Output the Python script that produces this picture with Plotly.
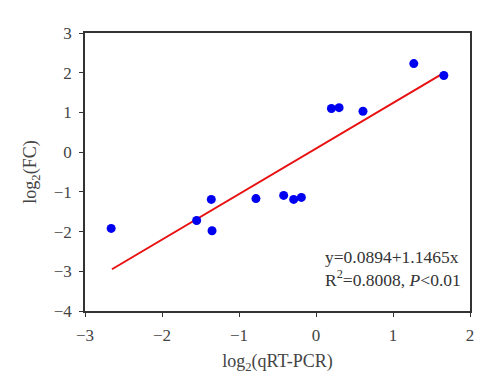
import plotly.graph_objects as go

qrt_pcr = [-2.66, -1.55, -1.36, -1.35, -0.78, -0.42, -0.29, -0.19, 0.20, 0.30, 0.61, 1.27, 1.66]
log2_fc = [-1.92, -1.72, -1.19, -1.98, -1.17, -1.09, -1.19, -1.14, 1.10, 1.12, 1.03, 2.23, 1.93]
fit_intercept = 0.0894
fit_slope = 1.1465
fit_x_range = [-2.65, 1.65]
x_ticks = [-3, -2, -1, 0, 1, 2]
y_ticks = [-4, -3, -2, -1, 0, 1, 2, 3]

fit_y = [fit_intercept + fit_slope * x for x in fit_x_range]

font_family = "Liberation Serif, Times New Roman, serif"

fig = go.Figure()
fig.add_trace(go.Scatter(x=fit_x_range, y=fit_y, mode="lines",
                         line=dict(color="#e81010", width=2), showlegend=False))
fig.add_trace(go.Scatter(x=qrt_pcr, y=log2_fc, mode="markers",
                         marker=dict(color="#0000f0", size=9), showlegend=False))

axis_common = dict(showline=True, linecolor="#333333", linewidth=1.5, mirror=True,
                   ticks="outside", ticklen=4, tickwidth=1.2, tickcolor="#333333",
                   showgrid=False, zeroline=False, ticklabelstandoff=4,
                   tickfont=dict(family=font_family, size=17, color="#444444"))

fig.update_layout(
    width=496, height=385,
    margin=dict(l=77, r=34, t=25, b=82),
    paper_bgcolor="white", plot_bgcolor="white",
    font=dict(family=font_family, color="#444444"),
    xaxis=dict(range=[-3, 2], tickvals=x_ticks, **axis_common,
               title=dict(text="log<sub>2</sub>(qRT-PCR)", font=dict(size=18), standoff=10)),
    yaxis=dict(range=[-4, 3], tickvals=y_ticks, **axis_common,
               title=dict(text="log<sub>2</sub>(FC)", font=dict(size=18), standoff=12)),
    annotations=[dict(
        xref="paper", yref="paper", x=0.983, y=0.07, xanchor="right", yanchor="bottom",
        align="left", showarrow=False,
        text="y=0.0894+1.1465x<br>R<sup>2</sup>=0.8008, <i>P</i>&lt;0.01",
        font=dict(family=font_family, size=17.5, color="#333333"))],
)

fig.write_html("out.html")
